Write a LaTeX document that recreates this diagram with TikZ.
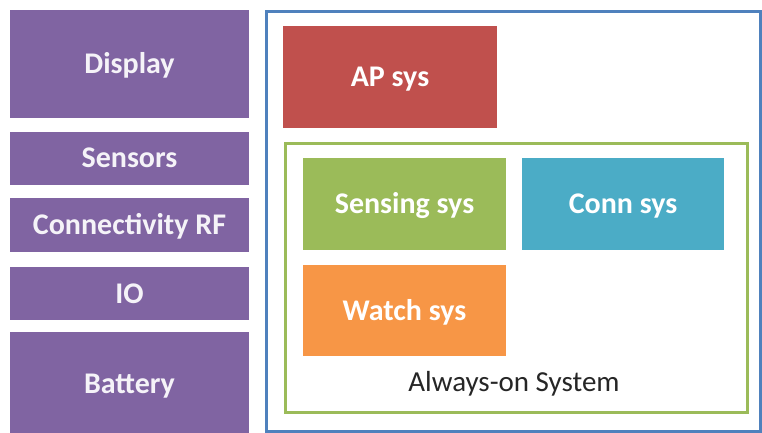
\documentclass[tikz,border=0pt]{standalone}
\usepackage{fontspec}
\setmainfont{Carlito}
\definecolor{purp}{HTML}{8064A2}
\definecolor{apred}{HTML}{C0504D}
\definecolor{grn}{HTML}{9BBB59}
\definecolor{cyn}{HTML}{4BACC6}
\definecolor{org}{HTML}{F79646}
\definecolor{blu}{HTML}{4F81BD}
\begin{document}
\begin{tikzpicture}[x=1pt,y=-1pt,
  box/.style={draw=none,font=\fontsize{30}{32}\selectfont\bfseries,text=white,inner sep=0pt,text height=19pt,text depth=0pt},
  pbox/.style={box,fill=purp,text=purp!8}]
\useasboundingbox (0,0) rectangle (762,432);
\fill[white] (0,0) rectangle (762,432);
% left column
\node[pbox,minimum width=239pt,minimum height=108pt] (disp) at (129.5,64) {Display};
\node[pbox,minimum width=239pt,minimum height=53pt] (sens) at (129.5,158) {Sensors};
\node[pbox,minimum width=239pt,minimum height=54pt] (conn) at (129.5,225) {Connectivity RF};
\node[pbox,minimum width=239pt,minimum height=53pt] (io) at (129.5,293.5) {IO};
\node[pbox,minimum width=239pt,minimum height=104pt] (bat) at (129.5,384) {Battery};
% outer blue frame
\draw[blu,line width=3pt] (266,11) rectangle (760,431);
% AP sys
\node[box,fill=apred,minimum width=214pt,minimum height=102pt] (ap) at (390,77) {AP sys};
% always-on green frame
\draw[grn,line width=3pt] (285,143) rectangle (747,412);
\node[box,fill=grn,minimum width=203pt,minimum height=92pt] (sensing) at (404.5,204) {Sensing sys};
\node[box,fill=cyn,minimum width=202pt,minimum height=92pt] (connsys) at (623,204) {Conn sys};
\node[box,fill=org,minimum width=203pt,minimum height=91pt] (watch) at (404.5,310.5) {Watch sys};
\node[font=\fontsize{29}{32}\selectfont,text=black!85,inner sep=0pt,text height=19pt,text depth=0pt] (aos) at (514,382) {Always-on System};
\end{tikzpicture}
\end{document}
